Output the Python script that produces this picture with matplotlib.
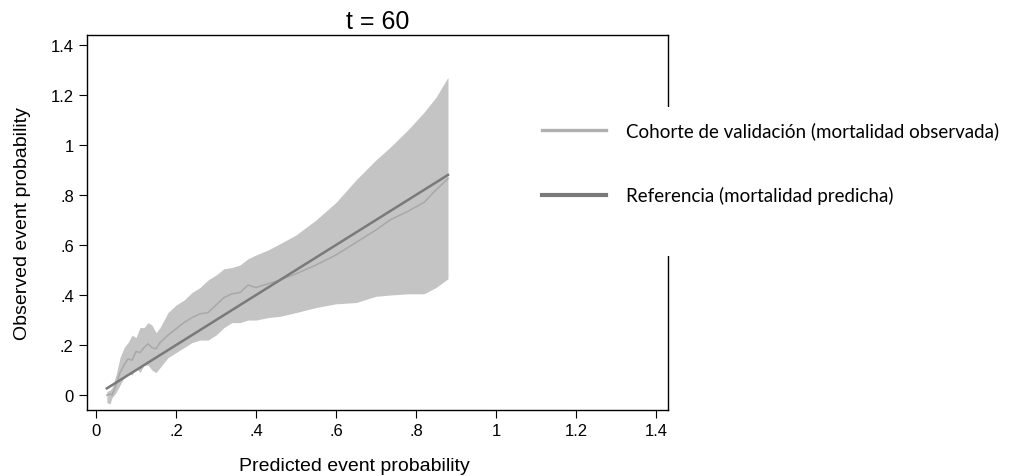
import matplotlib
matplotlib.use("Agg")
import matplotlib.pyplot as plt
from matplotlib.lines import Line2D
from matplotlib.patches import Rectangle

# calibration curve at t = 60
pred = [0.027, 0.035, 0.04, 0.05, 0.06, 0.07, 0.08, 0.09, 0.10, 0.11, 0.12, 0.13,
        0.14, 0.15, 0.16, 0.18, 0.20, 0.22, 0.24, 0.26, 0.28, 0.30, 0.32, 0.34,
        0.36, 0.38, 0.40, 0.43, 0.46, 0.50, 0.55, 0.60, 0.65, 0.70, 0.735, 0.78,
        0.82, 0.85, 0.88]
obs = [0.00, 0.005, 0.00, 0.04, 0.09, 0.12, 0.145, 0.14, 0.175, 0.17, 0.19, 0.205,
       0.19, 0.185, 0.21, 0.24, 0.265, 0.29, 0.31, 0.325, 0.33, 0.36, 0.39, 0.405,
       0.41, 0.44, 0.43, 0.445, 0.46, 0.485, 0.52, 0.56, 0.61, 0.66, 0.70, 0.735,
       0.77, 0.82, 0.865]
upper = [0.015, 0.02, 0.03, 0.08, 0.15, 0.19, 0.21, 0.24, 0.23, 0.27, 0.27, 0.29,
         0.28, 0.25, 0.27, 0.33, 0.36, 0.38, 0.41, 0.43, 0.46, 0.48, 0.505, 0.51,
         0.52, 0.545, 0.56, 0.58, 0.605, 0.64, 0.70, 0.77, 0.86, 0.94, 0.99, 1.06,
         1.13, 1.19, 1.27]
lower = [-0.03, -0.035, -0.01, 0.01, 0.04, 0.07, 0.09, 0.08, 0.11, 0.09, 0.12, 0.12,
         0.10, 0.09, 0.11, 0.15, 0.17, 0.19, 0.21, 0.22, 0.22, 0.24, 0.27, 0.29,
         0.29, 0.30, 0.30, 0.31, 0.315, 0.33, 0.35, 0.365, 0.37, 0.395, 0.40, 0.405,
         0.405, 0.43, 0.465]
ref_x = [0.027, 0.88]
ref_y = [0.027, 0.88]

ticks = [0, 0.2, 0.4, 0.6, 0.8, 1.0, 1.2, 1.4]
tick_labels = ["0", ".2", ".4", ".6", ".8", "1", "1.2", "1.4"]

band_col = "#c4c4c4"
obs_col = "#a8a8a8"
ref_col = "#7a7a7a"

plt.rcParams["font.family"] = ["Liberation Sans", "DejaVu Sans"]

fig = plt.figure(figsize=(10.12, 4.77), dpi=100)
ax = fig.add_axes([0.086, 0.138, 0.574, 0.787])

ax.fill_between(pred, lower, upper, color=band_col, lw=0)
ax.plot(pred, obs, color=obs_col, lw=1.1)
ax.plot(ref_x, ref_y, color=ref_col, lw=1.8)

ax.set_xlim(-0.0225, 1.43)
ax.set_ylim(-0.06, 1.44)
ax.set_xticks(ticks)
ax.set_xticklabels(tick_labels)
ax.set_yticks(ticks)
ax.set_yticklabels(tick_labels)
ax.tick_params(direction="out", length=6, width=0.8, labelsize=12, colors="black")
for s in ax.spines.values():
    s.set_linewidth(1.0)

ax.set_title("t = 60", fontsize=18, pad=5)
ax.set_xlabel("Predicted event probability", fontsize=14, labelpad=12)
ax.xaxis.set_label_coords(0.46, -0.125)
ax.set_ylabel("Observed event probability", fontsize=14, labelpad=14)

# white block behind the legend breaks the right spine
blank = Rectangle((0.525, 1 - 257 / 477), 0.47, 149 / 477, transform=fig.transFigure,
                  facecolor="white", edgecolor="none", zorder=5)
fig.patches.append(blank)

handles = [Line2D([0], [0], color="#b0b0b0", lw=2.4),
           Line2D([0], [0], color=ref_col, lw=3.0)]
labels = ["Cohorte de validación (mortalidad observada)",
          "Referencia (mortalidad predicha)"]
leg = fig.legend(handles, labels, loc="upper left", bbox_to_anchor=(0.528, 1 - 115 / 477),
                 frameon=False, handlelength=3.4, handletextpad=1.1,
                 labelspacing=2.5, borderaxespad=0,
                 prop={"family": ["Lato", "DejaVu Sans"], "size": 13.5})
leg.set_zorder(6)

fig.savefig("out.png", dpi=100)
